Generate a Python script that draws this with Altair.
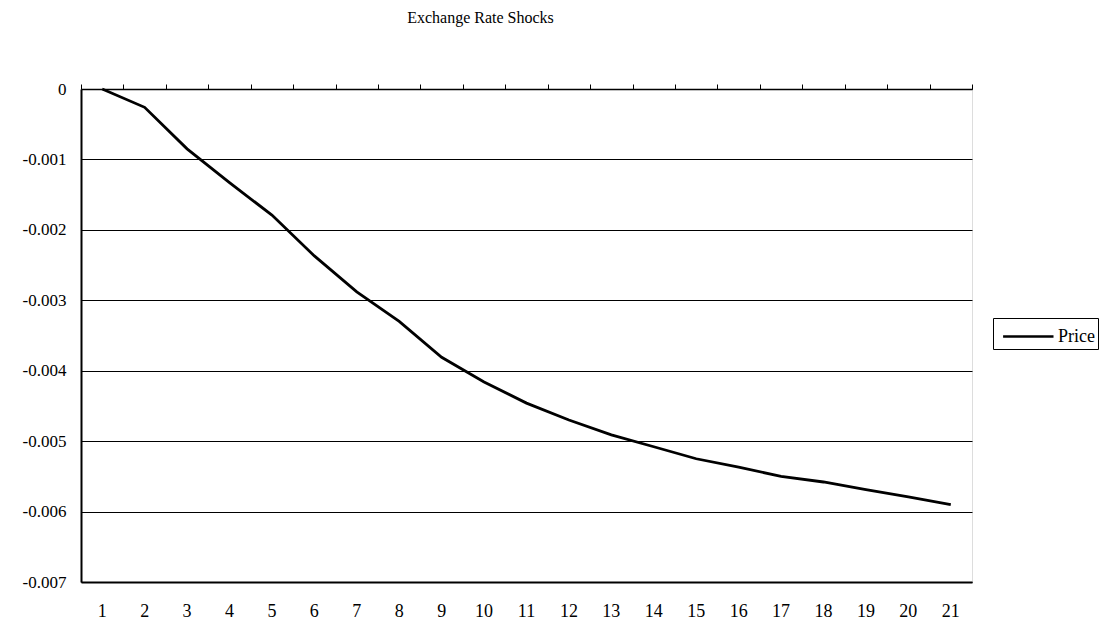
import altair as alt
import pandas as pd

# Impulse response of the price level to an exchange rate shock
periods = list(range(1, 22))
price = [0, -0.00026, -0.00085, -0.00133, -0.00179, -0.00237, -0.00288,
         -0.0033, -0.00381, -0.00416, -0.00446, -0.0047, -0.00491, -0.00508,
         -0.00525, -0.00537, -0.0055, -0.00558, -0.00569, -0.00579, -0.0059]
y_ticks = [0, -0.001, -0.002, -0.003, -0.004, -0.005, -0.006, -0.007]
series_name = "Price"

df = pd.DataFrame({"period": periods, "value": price, "series": series_name})

FONT = "Liberation Serif"

x_scale = alt.Scale(type="band", paddingInner=0, paddingOuter=0)
y_scale = alt.Scale(domain=[-0.007, 0], nice=False)

y_axis = alt.Axis(
    values=y_ticks,
    title=None,
    ticks=False,
    grid=True,
    gridColor="black",
    gridWidth=1,
    gridOpacity=1,
    domain=True,
    domainColor="black",
    domainWidth=2,
    labelPadding=15,
    labelFont=FONT,
    labelFontSize=17,
    labelColor="black",
    labelExpr="replace(format(datum.value, '.3~f'), '\u2212', '-')",
)

line = alt.Chart(df).mark_line(color="black", strokeWidth=2.8).encode(
    x=alt.X(
        "period:O",
        scale=x_scale,
        axis=alt.Axis(
            orient="bottom",
            title=None,
            ticks=False,
            labelAngle=0,
            labelPadding=20,
            labelFont=FONT,
            labelFontSize=18,
            labelColor="black",
            domainColor="black",
            domainWidth=2,
        ),
    ),
    y=alt.Y("value:Q", scale=y_scale, axis=y_axis),
    color=alt.Color(
        "series:N",
        scale=alt.Scale(domain=[series_name], range=["black"]),
        legend=alt.Legend(
            title=None,
            orient="none",
            legendX=912,
            legendY=229,
            symbolType="M-0.6,0H3",
            symbolSize=784,
            symbolStrokeWidth=2.5,
            strokeColor="black",
            padding=3,
            labelFont=FONT,
            labelFontSize=18,
            labelColor="black",
            labelOffset=31,
        ),
    ),
)

# Zero line at the top carries the category tick marks
top_ticks = alt.Chart(df).mark_line(opacity=0).encode(
    x=alt.X(
        "period:O",
        scale=x_scale,
        axis=alt.Axis(
            orient="top",
            title=None,
            labels=False,
            ticks=True,
            tickBand="extent",
            tickSize=5,
            tickColor="black",
            tickWidth=1,
            domainColor="black",
            domainWidth=1.5,
        ),
    ),
    y=alt.Y("value:Q", scale=y_scale, axis=y_axis),
)

chart = (
    alt.layer(line, top_ticks)
    .resolve_axis(x="independent")
    .properties(
        width=891,
        height=493,
        title=alt.TitleParams(
            "Exchange Rate Shocks",
            font=FONT,
            fontSize=16,
            fontWeight="normal",
            color="black",
            anchor="middle",
            dx=-46,
            offset=54,
        ),
        autosize=alt.AutoSizeParams(type="none"),
        padding={"left": 81, "top": 89, "right": 139, "bottom": 48},
    )
    .configure_view(stroke="black", strokeWidth=2)
    .configure(background="white")
)

chart.save("out.html", embed_options={"renderer": "svg", "actions": False})
